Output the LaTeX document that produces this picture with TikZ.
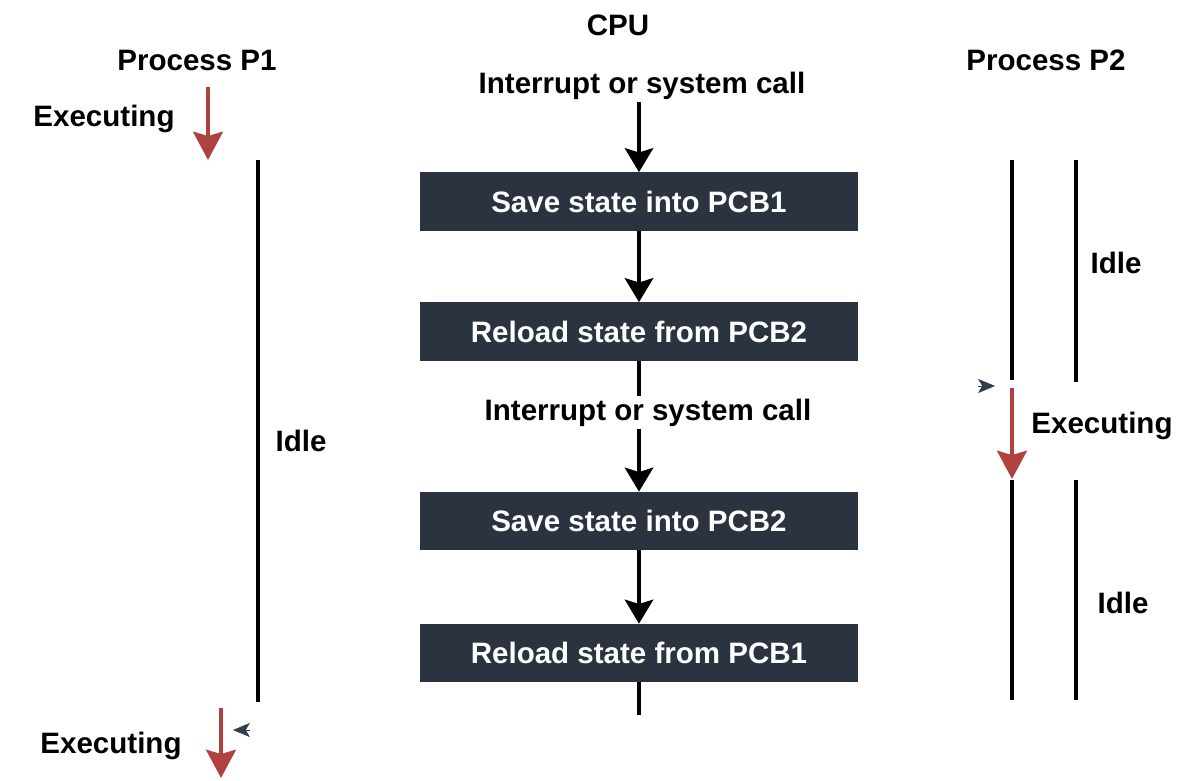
\documentclass[tikz,border=0pt]{standalone}
\usepackage{fontspec}
\setmainfont{Liberation Sans}
\usepackage{xcolor}
\definecolor{boxdark}{HTML}{2A333F}
\definecolor{execred}{HTML}{B0413E}
\definecolor{tipnavy}{HTML}{2E3D4F}
\usepackage{tikz}
\usetikzlibrary{arrows.meta, positioning, calc}

\begin{document}
\begin{tikzpicture}[x=0.025cm, y=-0.025cm]
    \tikzstyle{txt}=[inner sep=2pt, yshift=-2.5pt, font=\fontsize{21}{25}\selectfont\bfseries]
    \tikzstyle{box}=[fill=boxdark, text=white, minimum width=10.95cm, minimum height=1.45cm,
                     inner sep=0pt, font=\fontsize{21}{25}\selectfont\bfseries]
    \tikzstyle{arr}=[-{Stealth[length=17pt, width=20pt, inset=3pt]}, line width=3.4pt]
    \tikzstyle{ln}=[line width=3.4pt]
    \tikzstyle{exe}=[-{Stealth[length=20pt, width=21pt, inset=3pt]}, line width=3.4pt, color=execred]
    \tikzstyle{tip}=[-{Stealth[length=12pt, width=10pt, inset=3pt]}, line width=0.4pt, color=tipnavy]

    \useasboundingbox (0,0) rectangle (1198,781);

    % headings
    \node[txt] (cpu) at (618,22)  {CPU};
    \node[txt] (p1)  at (197,57)  {Process P1};
    \node[txt] (p2)  at (1046,57) {Process P2};

    % CPU column
    \node[txt] (int1)    at (642,82)    {Interrupt or system call};
    \node[box] (save1)   at (639,201.5) {Save state into PCB1};
    \node[box] (reload2) at (639,331.5) {Reload state from PCB2};
    \node[txt] (int2)    at (648,409)   {Interrupt or system call};
    \node[box] (save2)   at (639,521)   {Save state into PCB2};
    \node[box] (reload1) at (639,653)   {Reload state from PCB1};
    \coordinate (cpuend) at (639,715);

    \draw[arr] (int1.south -| save1.north) -- (save1.north);
    \draw[arr] (save1) -- (reload2);
    \draw[ln]  (reload2.south) -- (int2.north -| reload2.south);
    \draw[arr] (int2.south -| save2.north) -- (save2.north);
    \draw[arr] (save2) -- (reload1);
    \draw[ln]  (reload1.south) -- (cpuend);

    % process P1
    \node[txt] (exe1) at (104,115) {Executing};
    \coordinate (e1a) at (208,87);
    \coordinate (e1b) at (208,160);
    \draw[exe] (e1a) -- (e1b);
    \coordinate (i1a) at (258,160);
    \coordinate (i1b) at (258,702);
    \draw[ln] (i1a) -- (i1b);
    \node[txt] (idle1) at (301,437) {Idle};
    \node[txt] (exe3) at (111,742) {Executing};
    \coordinate (e3a) at (221,708);
    \coordinate (e3b) at (221,778);
    \draw[exe] (e3a) -- (e3b);
    \coordinate (t1a) at (250,730);
    \coordinate (t1b) at (233,730);
    \draw[tip] (t1a) -- (t1b);

    % process P2
    \coordinate (a1) at (1012,160);
    \coordinate (a2) at (1012,380);
    \coordinate (b1) at (1076,160);
    \coordinate (b2) at (1076,382);
    \draw[ln] (a1) -- (a2);
    \draw[ln] (b1) -- (b2);
    \node[txt] (idle2) at (1116,259) {Idle};
    \coordinate (t2a) at (978,386);
    \coordinate (t2b) at (995,386);
    \draw[tip] (t2a) -- (t2b);
    \coordinate (e2a) at (1012,388);
    \coordinate (e2b) at (1012,479);
    \draw[exe] (e2a) -- (e2b);
    \node[txt] (exe2) at (1102,422) {Executing};
    \coordinate (a3) at (1012,480);
    \coordinate (a4) at (1012,700);
    \coordinate (b3) at (1076,480);
    \coordinate (b4) at (1076,700);
    \draw[ln] (a3) -- (a4);
    \draw[ln] (b3) -- (b4);
    \node[txt] (idle3) at (1123,599) {Idle};
\end{tikzpicture}
\end{document}
